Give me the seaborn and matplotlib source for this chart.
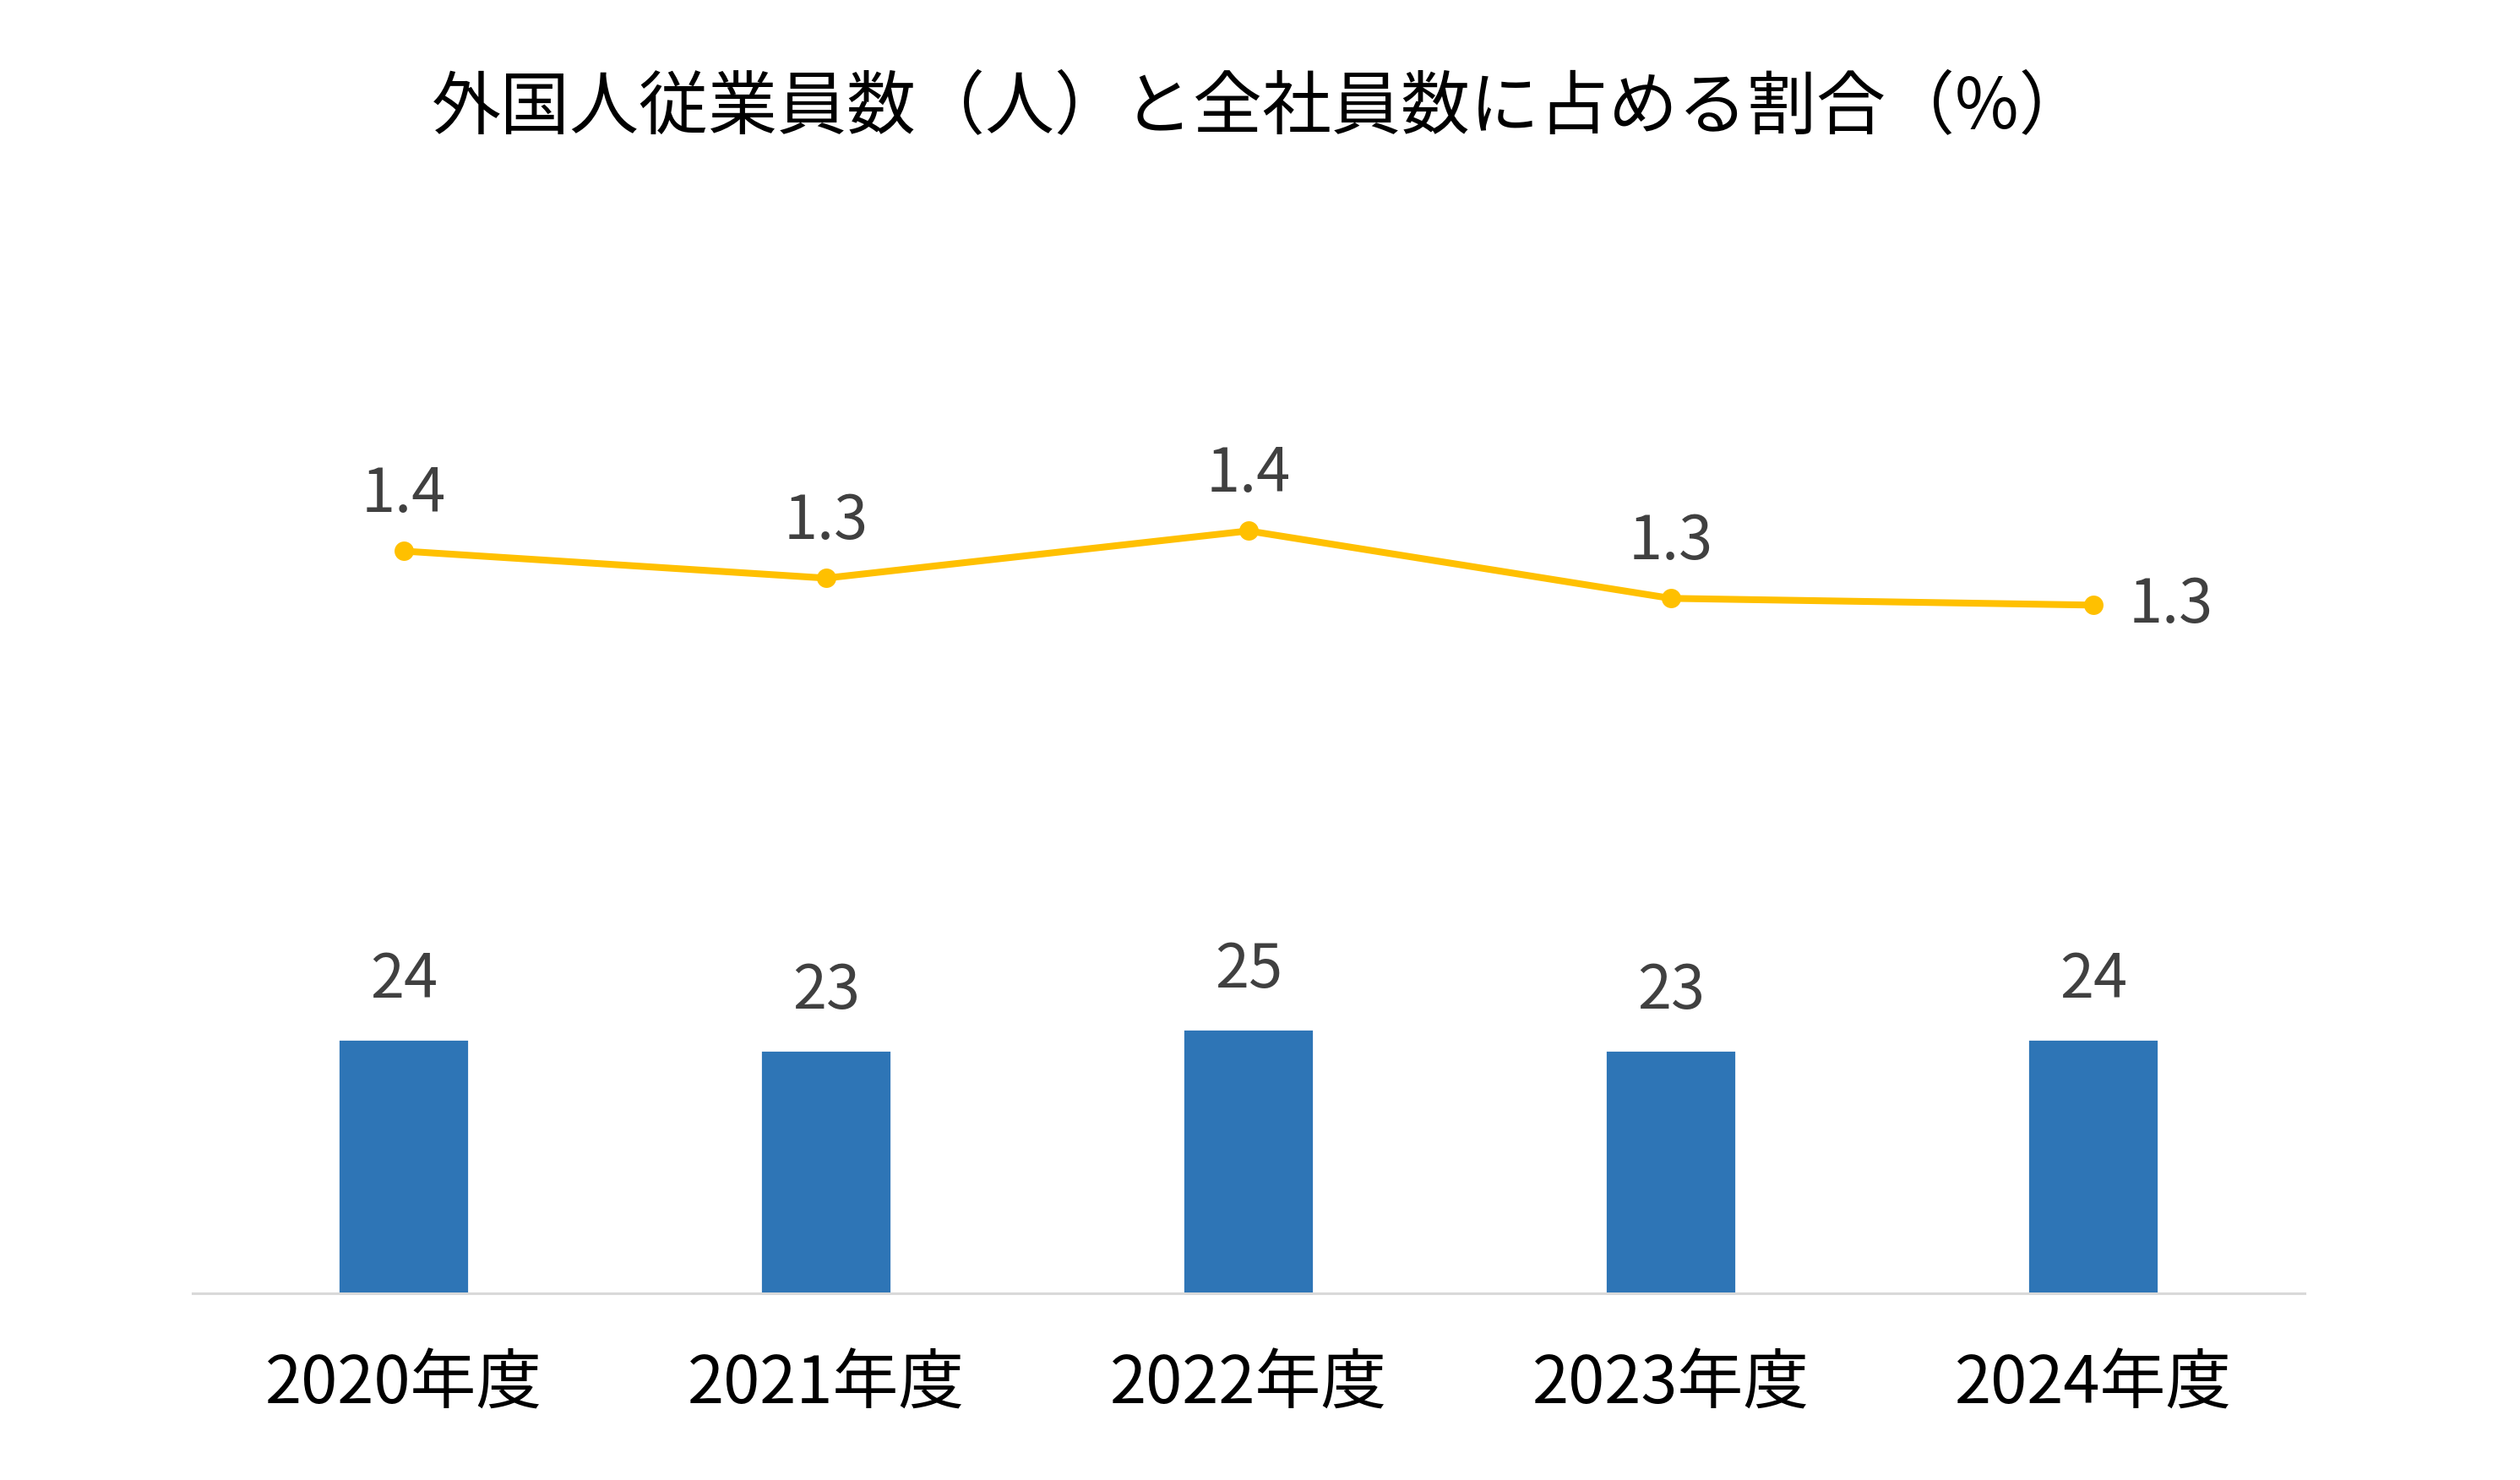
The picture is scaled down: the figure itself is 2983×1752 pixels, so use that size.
import matplotlib
matplotlib.use("Agg")
import matplotlib.pyplot as plt
import numpy as np
import seaborn as sns

# data
years = ["2020年度", "2021年度", "2022年度", "2023年度", "2024年度"]
foreign_staff = [24, 23, 25, 23, 24]          # 外国人従業員数（人）
foreign_ratio = [1.37, 1.33, 1.40, 1.30, 1.29]  # 全社員数に占める割合（%）

sns.set_style("white")
plt.rcParams['font.family'] = ['Noto Sans CJK JP', 'DejaVu Sans']

BAR_COLOR = "#2E75B6"
LINE_COLOR = "#FFC000"
LABEL_COLOR = "#404040"

fig = plt.figure(figsize=(14.915, 8.76), dpi=200)
ax = fig.add_axes([0.0764, 0.1261, 0.8381, 0.7158])

# bars: employee counts
sns.barplot(x=years, y=foreign_staff, color=BAR_COLOR, saturation=1,
            width=0.31, ax=ax)
ax.set_ylim(0, 100)
ax.set_xlim(-0.5, len(years) - 0.5)
ax.set_yticks([])
ax.set_ylabel("")
for s in ["top", "left", "right"]:
    ax.spines[s].set_visible(False)
ax.spines["bottom"].set_color("#D9D9D9")
ax.spines["bottom"].set_linewidth(1.1)
ax.tick_params(axis="x", length=0, pad=25, labelsize=28, labelcolor="black")

for i, v in enumerate(foreign_staff):
    ax.annotate(f"{v}", (i, v), xytext=(0, 25), textcoords="offset points",
                ha="center", va="center", fontsize=26, color=LABEL_COLOR)

# line: share of all employees, on a twin axis
ax2 = ax.twinx()
xs = np.arange(len(years))
sns.lineplot(x=xs, y=foreign_ratio, color=LINE_COLOR, linewidth=2.9,
             marker="o", markersize=7.5, markeredgecolor=LINE_COLOR, ax=ax2)
ax2.set_ylim(0.27, 1.84)
ax2.set_yticks([])
ax2.set_ylabel("")
for s in ["top", "left", "right", "bottom"]:
    ax2.spines[s].set_visible(False)

for i, v in enumerate(foreign_ratio):
    if i == len(foreign_ratio) - 1:
        off, ha = (33, 0), "center"
    else:
        off, ha = (0, 24), "center"
    ax2.annotate(f"{v:.1f}", (i, v), xytext=off, textcoords="offset points",
                 ha=ha, va="center", fontsize=26, color=LABEL_COLOR)

fig.text(0.5, 0.9264, "外国人従業員数（人）と全社員数に占める割合（%）",
         ha="center", va="center", fontsize=29.5, color="black")

fig.savefig("out.png", dpi=200, facecolor="white")
